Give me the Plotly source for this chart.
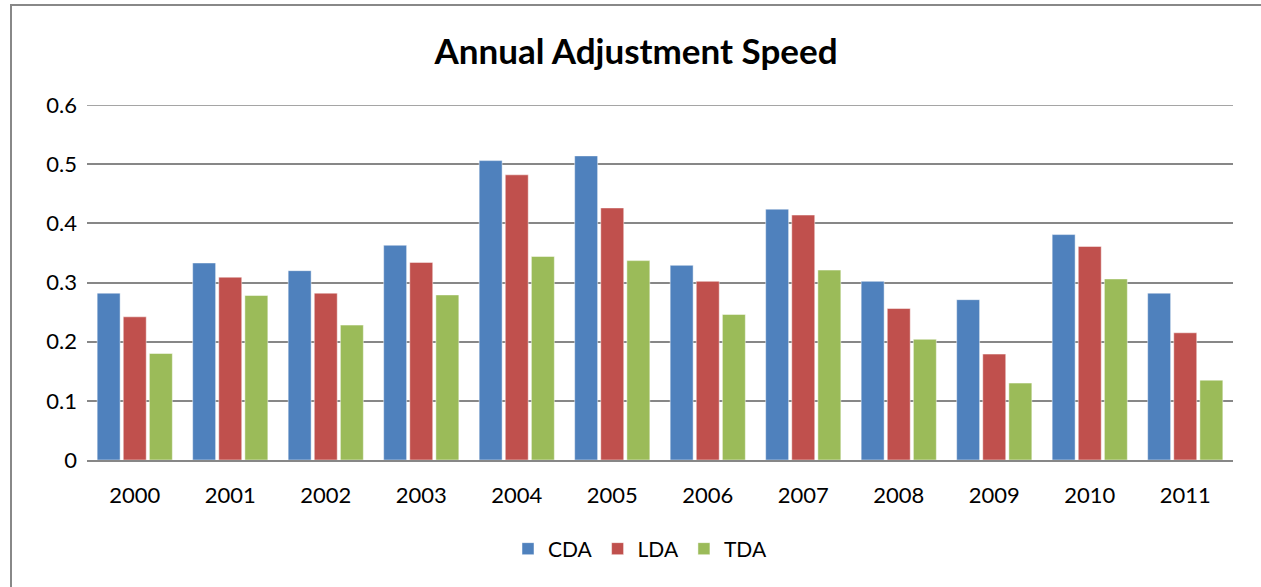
import plotly.graph_objects as go

years = ["2000", "2001", "2002", "2003", "2004", "2005", "2006", "2007", "2008", "2009", "2010", "2011"]
cda = [0.282, 0.333, 0.320, 0.363, 0.506, 0.514, 0.329, 0.424, 0.302, 0.271, 0.381, 0.282]
lda = [0.242, 0.309, 0.282, 0.334, 0.482, 0.426, 0.302, 0.414, 0.256, 0.179, 0.361, 0.215]
tda = [0.180, 0.278, 0.228, 0.279, 0.344, 0.337, 0.246, 0.321, 0.204, 0.130, 0.306, 0.135]
y_ticks = [0, 0.1, 0.2, 0.3, 0.4, 0.5, 0.6]
y_labels = ["0", "0.1", "0.2", "0.3", "0.4", "0.5", "0.6"]

series = [("CDA", cda, "#4F81BD"), ("LDA", lda, "#C0504D"), ("TDA", tda, "#9BBB59")]

FONT = "Lato"
GRID = "#878787"

fig = go.Figure()
for name, vals, col in series:
    fig.add_trace(go.Bar(x=years, y=vals, name=name,
                         marker=dict(color=col, line=dict(color="rgba(255,255,255,0.6)", width=0.8))))

W, H = 1261, 587
# target plot area in screenshot coordinates
L, R, T, B = 87, 1233, 105, 460
pw, ph = R - L, B - T

def px(x):
    return (x - L) / pw

def py(y):
    return (B - y) / ph

fig.update_layout(
    width=W, height=H,
    margin=dict(l=L, r=W - R, t=T, b=H - B),
    paper_bgcolor="white", plot_bgcolor="white",
    barmode="group", bargap=0.18, bargroupgap=0.12,
    font=dict(family=FONT, color="black", size=21),
    title=dict(text="<b>Annual Adjustment Speed</b>", x=px(636), xref="paper", xanchor="center",
               y=1 - 52 / H, yanchor="middle", font=dict(family=FONT, size=35, color="black")),
    legend=dict(orientation="h", x=px(640), xanchor="center", y=py(549), yanchor="middle",
                font=dict(family=FONT, size=21), itemwidth=30, tracegroupgap=0),
    showlegend=True,
)
fig.update_xaxes(showgrid=False, showline=True, linecolor=GRID, linewidth=2,
                 ticks="", tickfont=dict(family=FONT, size=22), ticklabelstandoff=15)
fig.update_yaxes(range=[y_ticks[0], y_ticks[-1]], showgrid=True, gridcolor=GRID, gridwidth=1.5,
                 zeroline=False, showline=False, ticks="", tickfont=dict(family=FONT, size=22),
                 ticklabelstandoff=9, tickvals=y_ticks, ticktext=y_labels)

# top gridline (plotly drops the gridline lying on the plot edge)
fig.add_shape(type="line", xref="paper", yref="y", x0=0, x1=1, y0=y_ticks[-1], y1=y_ticks[-1],
              line=dict(color=GRID, width=1.5), layer="below")

fig.add_shape(type="rect", xref="paper", yref="paper",
              x0=px(11), x1=px(1275), y0=py(600), y1=py(5),
              line=dict(color="#888888", width=2), fillcolor="rgba(0,0,0,0)", layer="below")

fig.write_html("out.html", config={"displayModeBar": False},
               post_script="document.body.style.margin='0px';document.body.style.overflow='hidden';")
